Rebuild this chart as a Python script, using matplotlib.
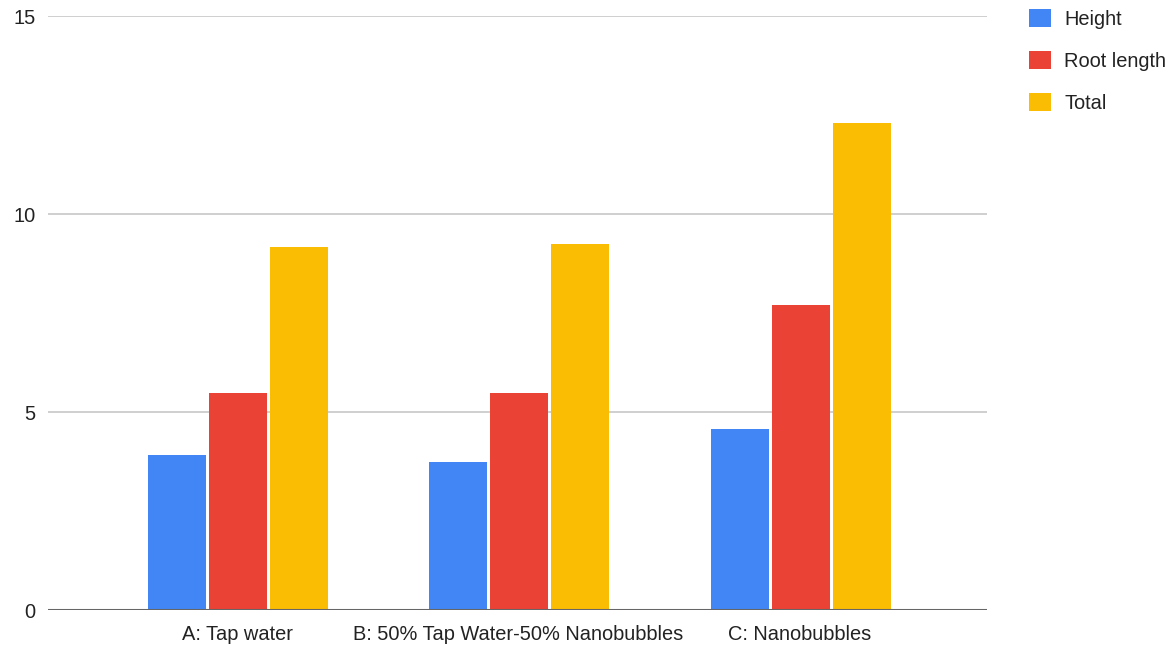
import numpy as np
import matplotlib.pyplot as plt
from matplotlib.patches import Patch

plt.rcParams['font.family'] = ['Liberation Sans', 'DejaVu Sans']

groups = ['A: Tap water', 'B: 50% Tap Water-50% Nanobubbles', 'C: Nanobubbles']
height = [3.91, 3.75, 4.57]
root_length = [5.47, 5.47, 7.70]
total = [9.16, 9.24, 12.31]

series = ['Height', 'Root length', 'Total']
colors = ['#4285F4', '#EA4335', '#FBBC04']

fig = plt.figure(figsize=(11.74, 6.48), dpi=100)
ax = fig.add_axes([0.0409, 0.0586, 0.7998, 0.9167])

x = np.arange(len(groups))
barWidth = 0.206
step = 0.217
for i, (vals, c) in enumerate(zip([height, root_length, total], colors)):
    ax.bar(x + (i - 1) * step + 0.003, vals, width=barWidth, color=c, zorder=3)

ax.set_xlim(-0.672, 2.665)
ax.set_ylim(0, 15)
ax.set_yticks([0, 5, 10, 15])
ax.set_xticks(x)
ax.set_xticklabels(groups)
ax.tick_params(axis='both', length=0, labelsize=14.4, colors='#222222')
ax.tick_params(axis='y', pad=9)
ax.tick_params(axis='x', pad=11)

ax.grid(axis='y', color='#cccccc', linewidth=1.3, zorder=0)
ax.axhline(0, color='#666666', linewidth=2.2, zorder=4)
for s in ax.spines.values():
    s.set_visible(False)

handles = [Patch(facecolor=c, label=s) for s, c in zip(series, colors)]
fig.legend(handles=handles, loc='upper left', bbox_to_anchor=(0.870, 0.999),
           frameon=False, fontsize=14.4, handlelength=1.1, handleheight=1.05,
           handletextpad=0.65, labelspacing=1.1, borderaxespad=0,
           labelcolor='#222222')

fig.savefig('out.png', dpi=100)
